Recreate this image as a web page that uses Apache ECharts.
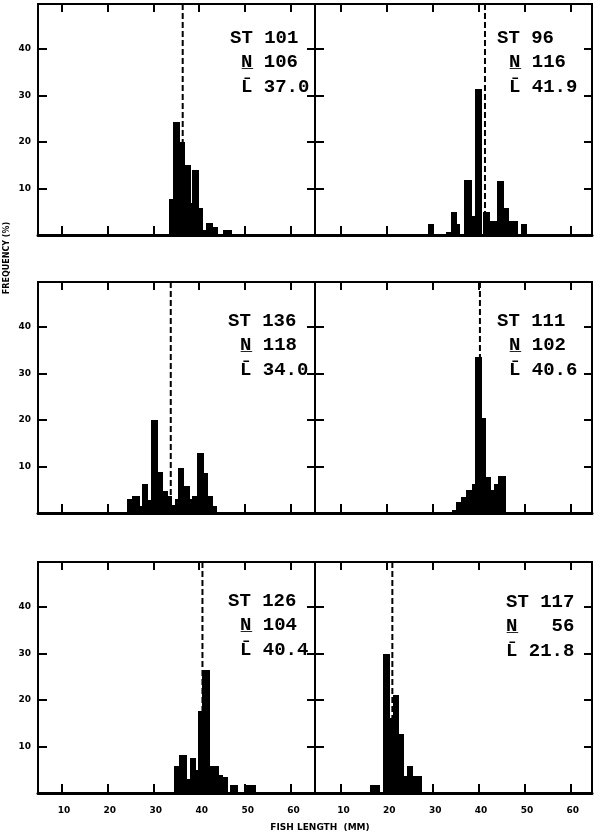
<!DOCTYPE html>
<html>
<head>
<meta charset="utf-8">
<script src="https://cdn.jsdelivr.net/npm/echarts@6/dist/echarts.min.js"></script>
<style>
html,body{margin:0;padding:0;background:#fff;}
#chart{width:599px;height:835px;}
</style>
</head>
<body>
<div id="chart"></div>
<script>
// ---- data ----
const stations = ['101', '96', '136', '111', '126', '117'];
const counts = [106, 116, 118, 102, 104, 56];
const means = ['37.0', '41.9', '34.0', '40.6', '40.4', '21.8'];
// position of the dashed mean line as drawn (mm)
const meanLines = [36.4, 41.4, 33.8, 40.3, 40.7, 21.2];
const xTicks = [10, 20, 30, 40, 50, 60];
const yTicks = [10, 20, 30, 40];

// histogram bars: [from mm, to mm, frequency %]
const st101 = [[33.4,34.3,7.7],[34.3,35.8,24.3],[35.8,36.9,19.9],[36.9,38.1,15.0],[38.1,38.5,6.8],[38.5,39.9,13.9],[39.9,40.9,5.9],[40.9,41.5,1.1],[41.5,43.1,2.6],[43.1,44.0,1.8],[45.2,47.1,1.1]];
const st96 = [[28.9,30.3,2.3],[32.9,34.0,0.7],[34.0,35.4,4.9],[35.4,36.0,2.3],[36.8,38.5,11.9],[38.5,39.2,4.1],[39.2,40.7,31.4],[41.0,42.4,4.9],[42.4,44.1,3.1],[44.1,45.6,11.6],[45.6,46.6,5.9],[46.6,48.5,3.1],[49.2,50.5,2.3]];
const st136 = [[24.2,25.3,2.9],[25.3,27.1,3.7],[27.1,27.6,1.4],[27.6,28.9,6.3],[28.9,29.5,2.7],[29.5,31.0,19.9],[31.0,32.2,8.8],[32.2,33.1,4.7],[33.1,34.0,3.7],[34.0,34.7,1.7],[34.7,35.4,2.9],[35.4,36.7,9.6],[36.7,38.0,5.8],[38.0,38.5,2.9],[38.5,39.6,3.6],[39.6,41.0,12.9],[41.0,42.0,8.5],[42.0,43.1,3.6],[43.1,43.8,1.4]];
const st111 = [[34.1,35.1,0.6],[35.1,36.2,2.4],[36.2,37.3,3.5],[37.3,38.5,4.9],[38.5,39.2,6.2],[39.2,40.8,33.5],[40.8,41.6,20.4],[41.6,42.7,7.8],[42.7,43.4,4.9],[43.4,44.3,6.3],[44.3,45.9,7.9]];
const st126 = [[34.5,35.6,5.7],[35.6,37.3,8.2],[37.3,38.0,3.0],[38.0,39.2,7.5],[39.2,39.7,5.0],[39.7,40.7,17.5],[40.7,42.3,26.4],[42.3,44.4,5.7],[44.4,45.2,3.9],[45.2,46.2,3.4],[46.7,48.5,1.8],[49.7,52.4,1.8]];
const st117 = [[16.3,18.5,1.7],[19.1,20.7,29.9],[20.7,21.4,16.1],[21.4,22.6,21.1],[22.6,23.7,12.6],[23.7,24.3,3.7],[24.3,25.6,5.7],[25.6,27.6,3.7]];
const panelBins = [st101, st96, st136, st111, st126, st117];

// ---- layout ----
const PW = 277, PH = 231;
const panelPos = [[38,4],[315,4],[38,282],[315,282],[38,562],[315,562]];
const xRangeByCol = [[4.9, 65.2], [4.33, 64.74]];
const yMax = 49.6;
// text layout: [ST line x, N/L lines x, first line y]
const textPos = [[230,241,38],[497,509,38],[228,240,321],[497,509,321],[228,240,601],[506,506,602]];
const lineGap = 24.5;

const tickFont = {color:'#000', fontFamily:'DejaVu Sans', fontWeight:'bold', fontSize:9};

const grids = [], xAxes = [], yAxes = [], series = [], graphics = [];
panelPos.forEach((p, i) => {
  const col = i % 2, row = Math.floor(i / 2);
  const [xmin, xmax] = xRangeByCol[col];
  grids.push({left:p[0], top:p[1], width:PW, height:PH, show:true, borderColor:'#000', borderWidth:2,
    backgroundColor:'transparent', containLabel:false, outerBoundsMode:'none'});
  xAxes.push({type:'value', gridIndex:i, position:'bottom', min:xmin, max:xmax,
    axisLine:{show:true, onZero:false, lineStyle:{color:'#000', width:3}},
    axisTick:{show:true, inside:true, length:9, customValues:xTicks, lineStyle:{color:'#000', width:2}},
    axisLabel:{show: row === 2, customValues:xTicks, margin:13, padding:[0,0,0,5], ...tickFont},
    splitLine:{show:false}});
  xAxes.push({type:'value', gridIndex:i, position:'top', min:xmin, max:xmax,
    axisLine:{show:false, onZero:false},
    axisTick:{show:true, inside:true, length:8, customValues:xTicks, lineStyle:{color:'#000', width:2}},
    axisLabel:{show:false}, splitLine:{show:false}});
  yAxes.push({type:'value', gridIndex:i, position:'left', min:0, max:yMax,
    axisLine:{show:false, onZero:false},
    axisTick:{show:true, inside:true, length:9, customValues:yTicks, lineStyle:{color:'#000', width:2}},
    axisLabel:{show: col === 0, customValues:yTicks, margin:7, ...tickFont},
    splitLine:{show:false}});
  yAxes.push({type:'value', gridIndex:i, position:'right', min:0, max:yMax,
    axisLine:{show:false, onZero:false},
    axisTick:{show:true, inside:true, length:8, customValues:yTicks, lineStyle:{color:'#000', width:2}},
    axisLabel:{show:false}, splitLine:{show:false}});
  series.push({type:'custom', xAxisIndex:2*i, yAxisIndex:2*i, data:panelBins[i],
    encode:{x:[0,1], y:2}, z:2,
    renderItem:function(params, api){
      const a = api.coord([api.value(0), api.value(2)]);
      const b = api.coord([api.value(1), 0]);
      const x0 = Math.round(a[0]), x1 = Math.round(b[0]);
      const y0 = Math.round(a[1]), y1 = b[1];
      return {type:'rect', shape:{x:x0, y:y0, width:x1-x0, height:y1-y0}, style:{fill:'#000'}};
    }});
  series.push({type:'line', xAxisIndex:2*i, yAxisIndex:2*i, z:3, symbol:'none', silent:true,
    data:[[meanLines[i], 0], [meanLines[i], yMax]],
    lineStyle:{color:'#000', width:2, type:[6,3]}});
  const t = textPos[i];
  const font = 'bold 19px "Liberation Mono"';
  const nVal = counts[i] < 100 ? '  ' + counts[i] : String(counts[i]);
  graphics.push({type:'text', x:t[0], y:t[2], style:{text:'ST ' + stations[i], font, fill:'#000', textVerticalAlign:'middle'}});
  graphics.push({type:'text', x:t[1], y:t[2] + lineGap, style:{text:'N\u0332 ' + nVal, font, fill:'#000', textVerticalAlign:'middle'}});
  graphics.push({type:'text', x:t[1], y:t[2] + 2*lineGap, style:{text:'L\u0304 ' + means[i], font, fill:'#000', textVerticalAlign:'middle'}});
});

graphics.push({type:'text', x:320, y:828, style:{text:'FISH LENGTH  (MM)', font:'bold 9px "DejaVu Sans"', fill:'#000', textAlign:'center', textVerticalAlign:'middle'}});
graphics.push({type:'text', x:7, y:258, rotation:Math.PI/2, style:{text:'FREQUENCY (%)', font:'bold 8px "DejaVu Sans"', fill:'#000', textAlign:'center', textVerticalAlign:'middle'}});

const chart = echarts.init(document.getElementById('chart'), null, {renderer:'canvas'});
chart.setOption({
  animation:false,
  backgroundColor:'#fff',
  grid:grids, xAxis:xAxes, yAxis:yAxes, series:series, graphic:graphics
});
</script>
</body>
</html>
